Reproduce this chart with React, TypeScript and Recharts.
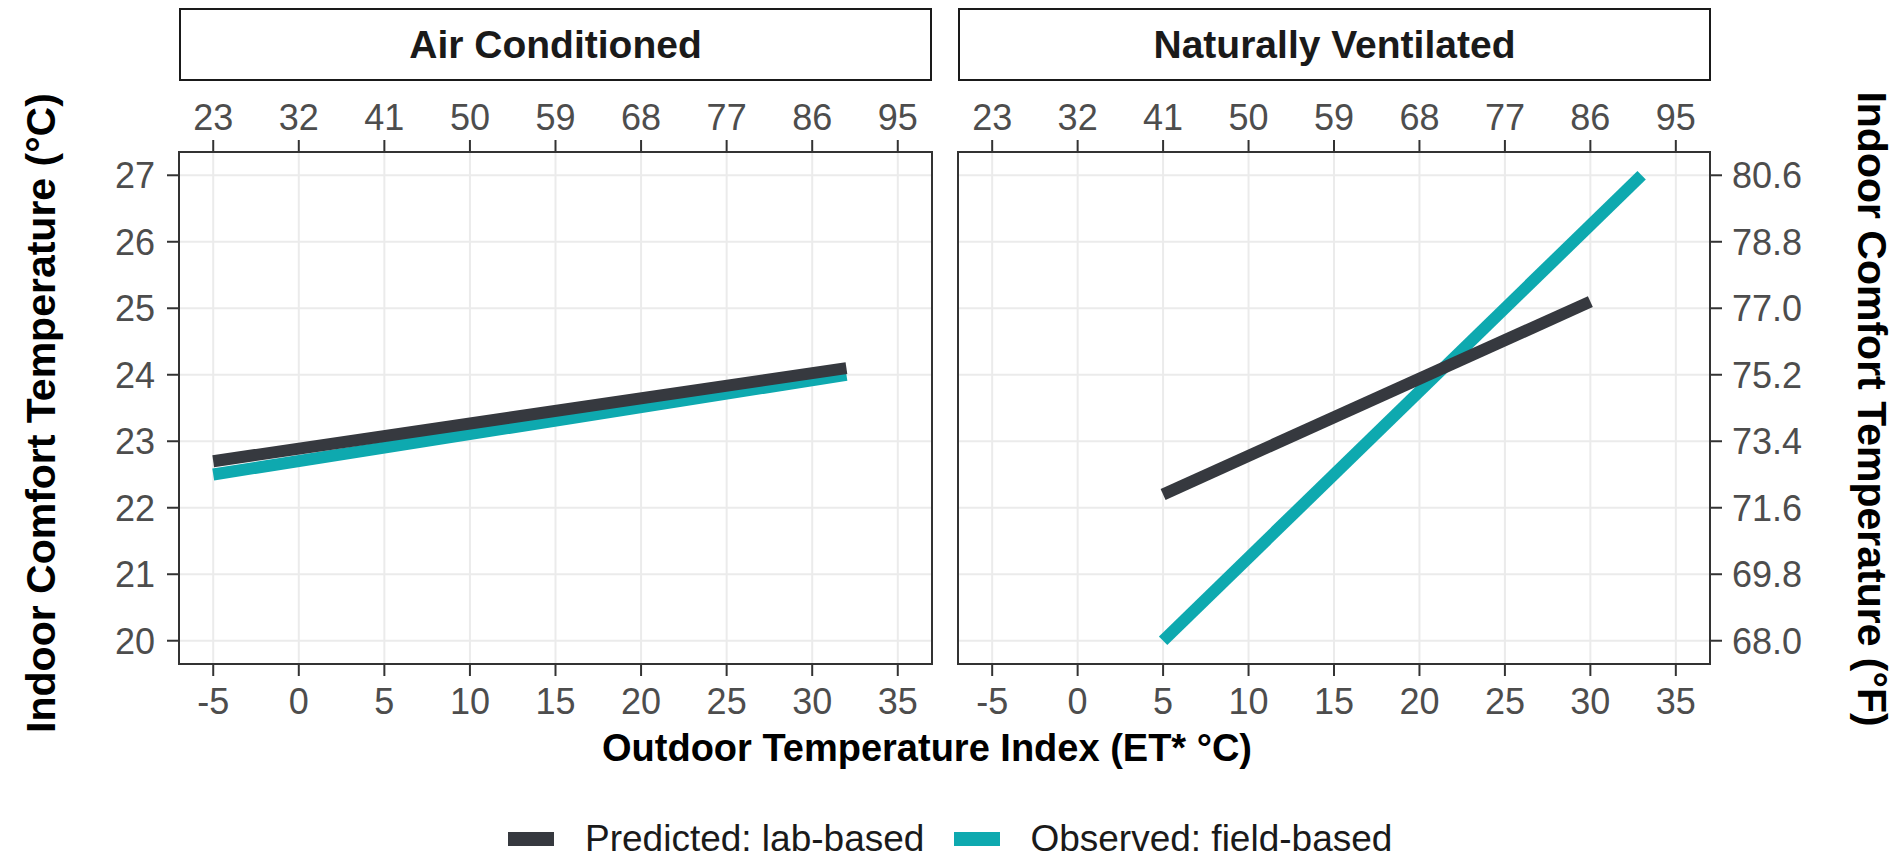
import { LineChart, Line, XAxis, YAxis, CartesianGrid, ReferenceArea } from 'recharts';

const panelTitles = ['Air Conditioned', 'Naturally Ventilated'];
const seriesNames = ['Predicted: lab-based', 'Observed: field-based'];

const xTicksC = [-5, 0, 5, 10, 15, 20, 25, 30, 35];
const xTickLabelsF = ['23', '32', '41', '50', '59', '68', '77', '86', '95'];
const yTicksC = [20, 21, 22, 23, 24, 25, 26, 27];
const yTickLabelsF = ['68.0', '69.8', '71.6', '73.4', '75.2', '77.0', '78.8', '80.6'];

// Air Conditioned
const acPredictedX = [-5, 32];
const acPredictedY = [22.7, 24.1];
const acObservedX = [-5, 32];
const acObservedY = [22.5, 24.0];

// Naturally Ventilated
const nvPredictedX = [5, 30];
const nvPredictedY = [22.2, 25.1];
const nvObservedX = [5, 33];
const nvObservedY = [20.0, 27.0];

const X_DOMAIN: [number, number] = [-7, 37];
const Y_DOMAIN: [number, number] = [19.65, 27.35];
const DARK = '#36393f';
const TEAL = '#0ea9af';
const FONT = "Arial, 'Liberation Sans', Helvetica, sans-serif";

type Pt = { x: number; y: number };
const toPoints = (xs: number[], ys: number[]): Pt[] => xs.map((x, i) => ({ x, y: ys[i] }));

const tickStyle = { fontSize: 36, fill: '#4d4d4d', fontFamily: FONT };
const tickLineStyle = { stroke: '#333333', strokeWidth: 2 };

function Panel({ side, predicted, observed }: { side: 'left' | 'right'; predicted: Pt[]; observed: Pt[] }) {
    const isLeft = side === 'left';
    return (
        <LineChart
            width={isLeft ? 940 : 945}
            height={640}
            margin={isLeft ? { top: 0, right: 8, bottom: 0, left: 0 } : { top: 0, right: 0, bottom: 0, left: 8 }}
        >
            <CartesianGrid stroke="#ebebeb" strokeWidth={2} />
            <XAxis
                type="number"
                dataKey="x"
                domain={X_DOMAIN}
                ticks={xTicksC}
                allowDataOverflow
                interval={0}
                height={66}
                tickSize={12}
                tickMargin={12}
                axisLine={false}
                tickLine={tickLineStyle}
                tick={tickStyle}
            />
            <XAxis
                xAxisId="top"
                orientation="top"
                type="number"
                dataKey="x"
                domain={X_DOMAIN}
                ticks={xTicksC}
                allowDataOverflow
                interval={0}
                height={62}
                tickSize={12}
                tickMargin={10}
                axisLine={false}
                tickLine={tickLineStyle}
                tick={tickStyle}
                tickFormatter={(v: number) => xTickLabelsF[xTicksC.indexOf(v)]}
            />
            <YAxis
                type="number"
                orientation={isLeft ? 'left' : 'right'}
                domain={Y_DOMAIN}
                ticks={yTicksC}
                allowDataOverflow
                interval={0}
                width={isLeft ? 179 : 185}
                tickSize={12}
                tickMargin={isLeft ? 12 : 10}
                axisLine={false}
                tickLine={tickLineStyle}
                tick={tickStyle}
                tickFormatter={(v: number) => (isLeft ? String(v) : yTickLabelsF[yTicksC.indexOf(v)])}
            />
            <ReferenceArea
                x1={X_DOMAIN[0]}
                x2={X_DOMAIN[1]}
                y1={Y_DOMAIN[0]}
                y2={Y_DOMAIN[1]}
                fill="none"
                stroke="#333333"
                strokeWidth={2}
            />
            <Line
                data={observed}
                dataKey="y"
                type="linear"
                stroke={TEAL}
                strokeWidth={12}
                strokeLinecap="butt"
                dot={false}
                activeDot={false}
                isAnimationActive={false}
            />
            <Line
                data={predicted}
                dataKey="y"
                type="linear"
                stroke={DARK}
                strokeWidth={12}
                strokeLinecap="butt"
                dot={false}
                activeDot={false}
                isAnimationActive={false}
            />
        </LineChart>
    );
}

function Strip({ left, title }: { left: number; title: string }) {
    return (
        <div
            style={{
                position: 'absolute',
                left,
                top: 8,
                width: 753,
                height: 73,
                boxSizing: 'border-box',
                border: '2px solid #1a1a1a',
                background: '#fff',
                display: 'flex',
                alignItems: 'center',
                justifyContent: 'center',
                fontFamily: FONT,
                fontWeight: 'bold',
                fontSize: 39,
                lineHeight: '39px',
                color: '#1a1a1a',
            }}
        >
            {title}
        </div>
    );
}

function RotatedTitle({ cx, cy, angle, text }: { cx: number; cy: number; angle: number; text: string }) {
    return (
        <div
            style={{
                position: 'absolute',
                left: cx - 400,
                top: cy - 21,
                width: 800,
                height: 42,
                lineHeight: '42px',
                textAlign: 'center',
                transform: `rotate(${angle}deg)`,
                fontFamily: FONT,
                fontWeight: 'bold',
                fontSize: 41,
                color: '#000',
                whiteSpace: 'nowrap',
            }}
        >
            {text}
        </div>
    );
}

export default function App() {
    return (
        <div style={{ position: 'relative', width: 1895, height: 859, background: '#fff', overflow: 'hidden' }}>
            <style>{'body{margin:0}'}</style>
            <Strip left={179} title={panelTitles[0]} />
            <Strip left={958} title={panelTitles[1]} />
            <div style={{ position: 'absolute', left: 0, top: 90 }}>
                <Panel
                    side="left"
                    predicted={toPoints(acPredictedX, acPredictedY)}
                    observed={toPoints(acObservedX, acObservedY)}
                />
            </div>
            <div style={{ position: 'absolute', left: 950, top: 90 }}>
                <Panel
                    side="right"
                    predicted={toPoints(nvPredictedX, nvPredictedY)}
                    observed={toPoints(nvObservedX, nvObservedY)}
                />
            </div>
            <RotatedTitle cx={41} cy={413} angle={-90} text="Indoor Comfort Temperature (°C)" />
            <RotatedTitle cx={1872} cy={409} angle={90} text="Indoor Comfort Temperature (°F)" />
            <div
                style={{
                    position: 'absolute',
                    left: 427,
                    top: 729,
                    width: 1000,
                    height: 38,
                    lineHeight: '38px',
                    textAlign: 'center',
                    fontFamily: FONT,
                    fontWeight: 'bold',
                    fontSize: 38,
                    color: '#000',
                }}
            >
                Outdoor Temperature Index (ET* °C)
            </div>
            <div
                style={{
                    position: 'absolute',
                    left: 508,
                    top: 820,
                    height: 37,
                    display: 'flex',
                    alignItems: 'center',
                    fontFamily: FONT,
                    fontSize: 37,
                    lineHeight: '37px',
                    color: '#1a1a1a',
                    whiteSpace: 'nowrap',
                }}
            >
                <span style={{ display: 'inline-block', width: 46, height: 14, background: DARK, marginRight: 31 }} />
                <span style={{ marginRight: 30 }}>{seriesNames[0]}</span>
                <span style={{ display: 'inline-block', width: 46, height: 14, background: TEAL, marginRight: 30 }} />
                <span>{seriesNames[1]}</span>
            </div>
        </div>
    );
}
